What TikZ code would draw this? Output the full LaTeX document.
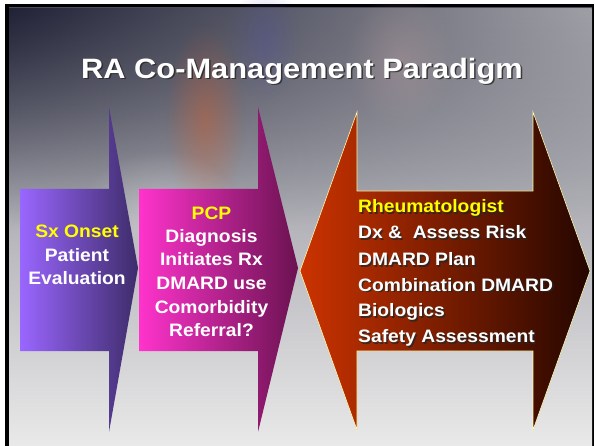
\documentclass[tikz,border=0pt]{standalone}
\usepackage{fontspec}
\setmainfont{Liberation Sans}
\usetikzlibrary{fadings}
\definecolor{bgtop}{HTML}{4A4C5A}
\definecolor{bgmid}{HTML}{B4B4BA}
\definecolor{bgbot}{HTML}{E9E9E9}
\definecolor{purL}{HTML}{9A66FF}
\definecolor{purR}{HTML}{3E2C6A}
\definecolor{magL}{HTML}{FF33CC}
\definecolor{magR}{HTML}{6A1250}
\definecolor{redL}{HTML}{CC3300}
\definecolor{redR}{HTML}{240600}
\definecolor{txtyel}{HTML}{FFFF00}
\tikzfading[name=fadedown, top color=transparent!0, bottom color=transparent!100]
\tikzfading[name=softblob, inner color=transparent!0, outer color=transparent!100]
\tikzset{
  bodytxt/.style={font=\fontsize{18}{18}\selectfont\bfseries, text=white, inner sep=0pt, anchor=base, xscale=1.07},
  bodyleft/.style={bodytxt, anchor=base west},
  shadowtxt/.style={text=black!85, opacity=0.8},
  titletxt/.style={font=\fontsize{28}{28}\selectfont\bfseries, text=white, inner sep=0pt, anchor=base, xscale=1.1},
  blob/.style={path fading=softblob}
}
\begin{document}
\begin{tikzpicture}[x=1pt,y=-1pt]
\useasboundingbox (0,0) rectangle (596,446);
\fill[white] (0,0) rectangle (596,446);
\fill[black] (5,4) rectangle (594,446);
% background
\shade[top color=bgtop, bottom color=bgbot, middle color=bgmid] (9,8) rectangle (592,446);
\shade[left color=black!90!blue, right color=white!80!gray, opacity=0.55, path fading=fadedown] (9,8) rectangle (592,230);
\fill[blob, color=red!40!orange!70!gray, opacity=0.4] (205,120) ellipse (40 and 95);
\fill[blob, color=pink!60!gray, opacity=0.3] (400,60) ellipse (55 and 70);
\fill[blob, color=gray!60!blue, opacity=0.25] (265,40) ellipse (35 and 60);
\fill[blob, color=white, opacity=0.25] (160,210) ellipse (80 and 60);
% arrow 1
\shade[left color=purL, right color=purR]
  (20,189) -- (109,189) -- (109,107) -- (138,268) -- (109,432) -- (109,351) -- (20,351) -- cycle;
% arrow 2
\shade[left color=magL, right color=magR]
  (139,189) -- (258,189) -- (258,107) -- (298,268) -- (258,432) -- (258,351) -- (139,351) -- cycle;
% double arrow
\shade[left color=redL, right color=redR, draw=yellow!30, line width=0.6pt]
  (300,271) -- (357,112) -- (357,191) -- (533,191) -- (533,112) -- (590,271) -- (533,430) -- (533,351) -- (357,351) -- (357,430) -- cycle;
% title
\node[titletxt, shadowtxt] (titles) at (303.5,79.8) {RA Co-Management Paradigm};
\node[titletxt] (title) at (302,78.3) {RA Co-Management Paradigm};
% arrow 1 text
\node[bodytxt, text=txtyel] (a1) at (77,237.5) {Sx Onset};
\node[bodytxt] (a2) at (77,261) {Patient};
\node[bodytxt] (a3) at (77,284) {Evaluation};
% arrow 2 text
\node[bodytxt, text=txtyel] (b1) at (211.5,219) {PCP};
\node[bodytxt] (b2) at (211.5,242) {Diagnosis};
\node[bodytxt] (b3) at (211.5,265.5) {Initiates Rx};
\node[bodytxt] (b4) at (211.5,289) {DMARD use};
\node[bodytxt] (b5) at (211.5,313) {Comorbidity};
\node[bodytxt] (b6) at (211.5,336.5) {Referral?};
% double arrow text with shadows
\foreach \y/\t/\c [count=\i] in {212.7/Rheumatologist/txtyel, 238.7/{Dx \&\ \ Assess Risk}/white, 265.7/{DMARD Plan}/white, 291/{Combination DMARD}/white, 316.7/Biologics/white, 342.7/{Safety Assessment}/white}{
  \node[bodyleft, shadowtxt] (cs\i) at (359.5,\y+1.5) {\t};
  \node[bodyleft, text=\c] (c\i) at (358,\y) {\t};
}
\end{tikzpicture}
\end{document}
